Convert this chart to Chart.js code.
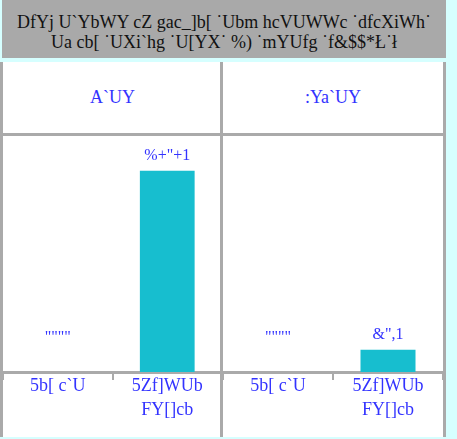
<!DOCTYPE html>
<html>
<head>
<meta charset="utf-8">
<script src="https://cdn.jsdelivr.net/npm/chart.js@4"></script>
<style>
  body { margin: 0; background: #d6ffff; font-family: "Liberation Serif", serif; }
  #title { position: absolute; left: 2px; top: 0; width: 444px; height: 58px; background: #a9a9a9;
           color: #111; font-size: 18px; line-height: 20px; text-align: center; padding-top: 12px; box-sizing: border-box; }
  .panel { position: absolute; top: 62px; height: 375px; background: #fff; border-left: 3px solid #aaa; box-sizing: border-box; }
  .head { height: 71px; border-bottom: 3px solid #aaa; color: #3333ff; font-size: 18px; line-height: 71px; text-align: center; }
  .box { position: relative; height: 301px; }
</style>
</head>
<body>
<div id="title">DfYj U`YbWY cZ gac_]b[ ˙Ubm hcVUWWc ˙dfcXiWh˙<br>Ua cb[ ˙UXi`hg ˙U[YX˙ %) ˙mYUfg ˙f&amp;$$*Ł˙ł</div>
<div class="panel" style="left:0; width:222px;">
  <div class="head" id="h0"></div>
  <div class="box"><canvas id="c0"></canvas></div>
</div>
<div class="panel" style="left:220px; width:226px; border-right:3px solid #aaa;">
  <div class="head" id="h1"></div>
  <div class="box"><canvas id="c1"></canvas></div>
</div>
<script>
// categories, series and value labels as they appear in the picture
const regions = [['5b[ c`U'], ['5Zf]WUb', 'FY[]cb']];
const panels = ['A`UY', ':Ya`UY'];
const maleValues = [null, 17.7];
const femaleValues = [null, 2.8];
const maleLabels = ['""""', '%+"+1'];
const femaleLabels = ['""""', '&",1'];

const blue = '#3333ff';
const grey = '#aaa';

const valueLabels = {
    id: 'valueLabels',
    afterDatasetsDraw(chart, args, opts) {
        const ctx = chart.ctx;
        const meta = chart.getDatasetMeta(0);
        ctx.save();
        ctx.fillStyle = blue;
        ctx.font = '16px "Liberation Serif", serif';
        ctx.textAlign = 'center';
        ctx.textBaseline = 'middle';
        meta.data.forEach((el, i) => {
            const v = chart.data.datasets[0].data[i];
            const y = v == null ? chart.chartArea.bottom - 34 : el.y - 15;
            ctx.fillText(opts.texts[i], el.x, y);
        });
        ctx.restore();
    }
};

function makeChart(id, values, texts) {
    return new Chart(document.getElementById(id), {
        type: 'bar',
        data: {
            labels: regions,
            datasets: [{
                data: values,
                backgroundColor: '#17becf',
                categoryPercentage: 1,
                barPercentage: 0.5
            }]
        },
        options: {
            responsive: true,
            maintainAspectRatio: false,
            animation: false,
            layout: { padding: 0 },
            plugins: {
                legend: { display: false },
                tooltip: { enabled: false },
                valueLabels: { texts: texts }
            },
            scales: {
                y: { display: false, min: 0.95, max: 20.6 },
                x: {
                    border: { display: true, color: grey, width: 3 },
                    grid: { offset: true, drawOnChartArea: false, color: grey, lineWidth: 2, tickLength: 8 },
                    ticks: { color: blue, font: { family: '"Liberation Serif", serif', size: 18, lineHeight: 1.3 }, padding: -5, maxRotation: 0 },
                    afterFit: s => { s.height = 65; }
                }
            }
        },
        plugins: [valueLabels]
    });
}

document.getElementById('h0').textContent = panels[0];
document.getElementById('h1').textContent = panels[1];
makeChart('c0', maleValues, maleLabels);
makeChart('c1', femaleValues, femaleLabels);
</script>
</body>
</html>
